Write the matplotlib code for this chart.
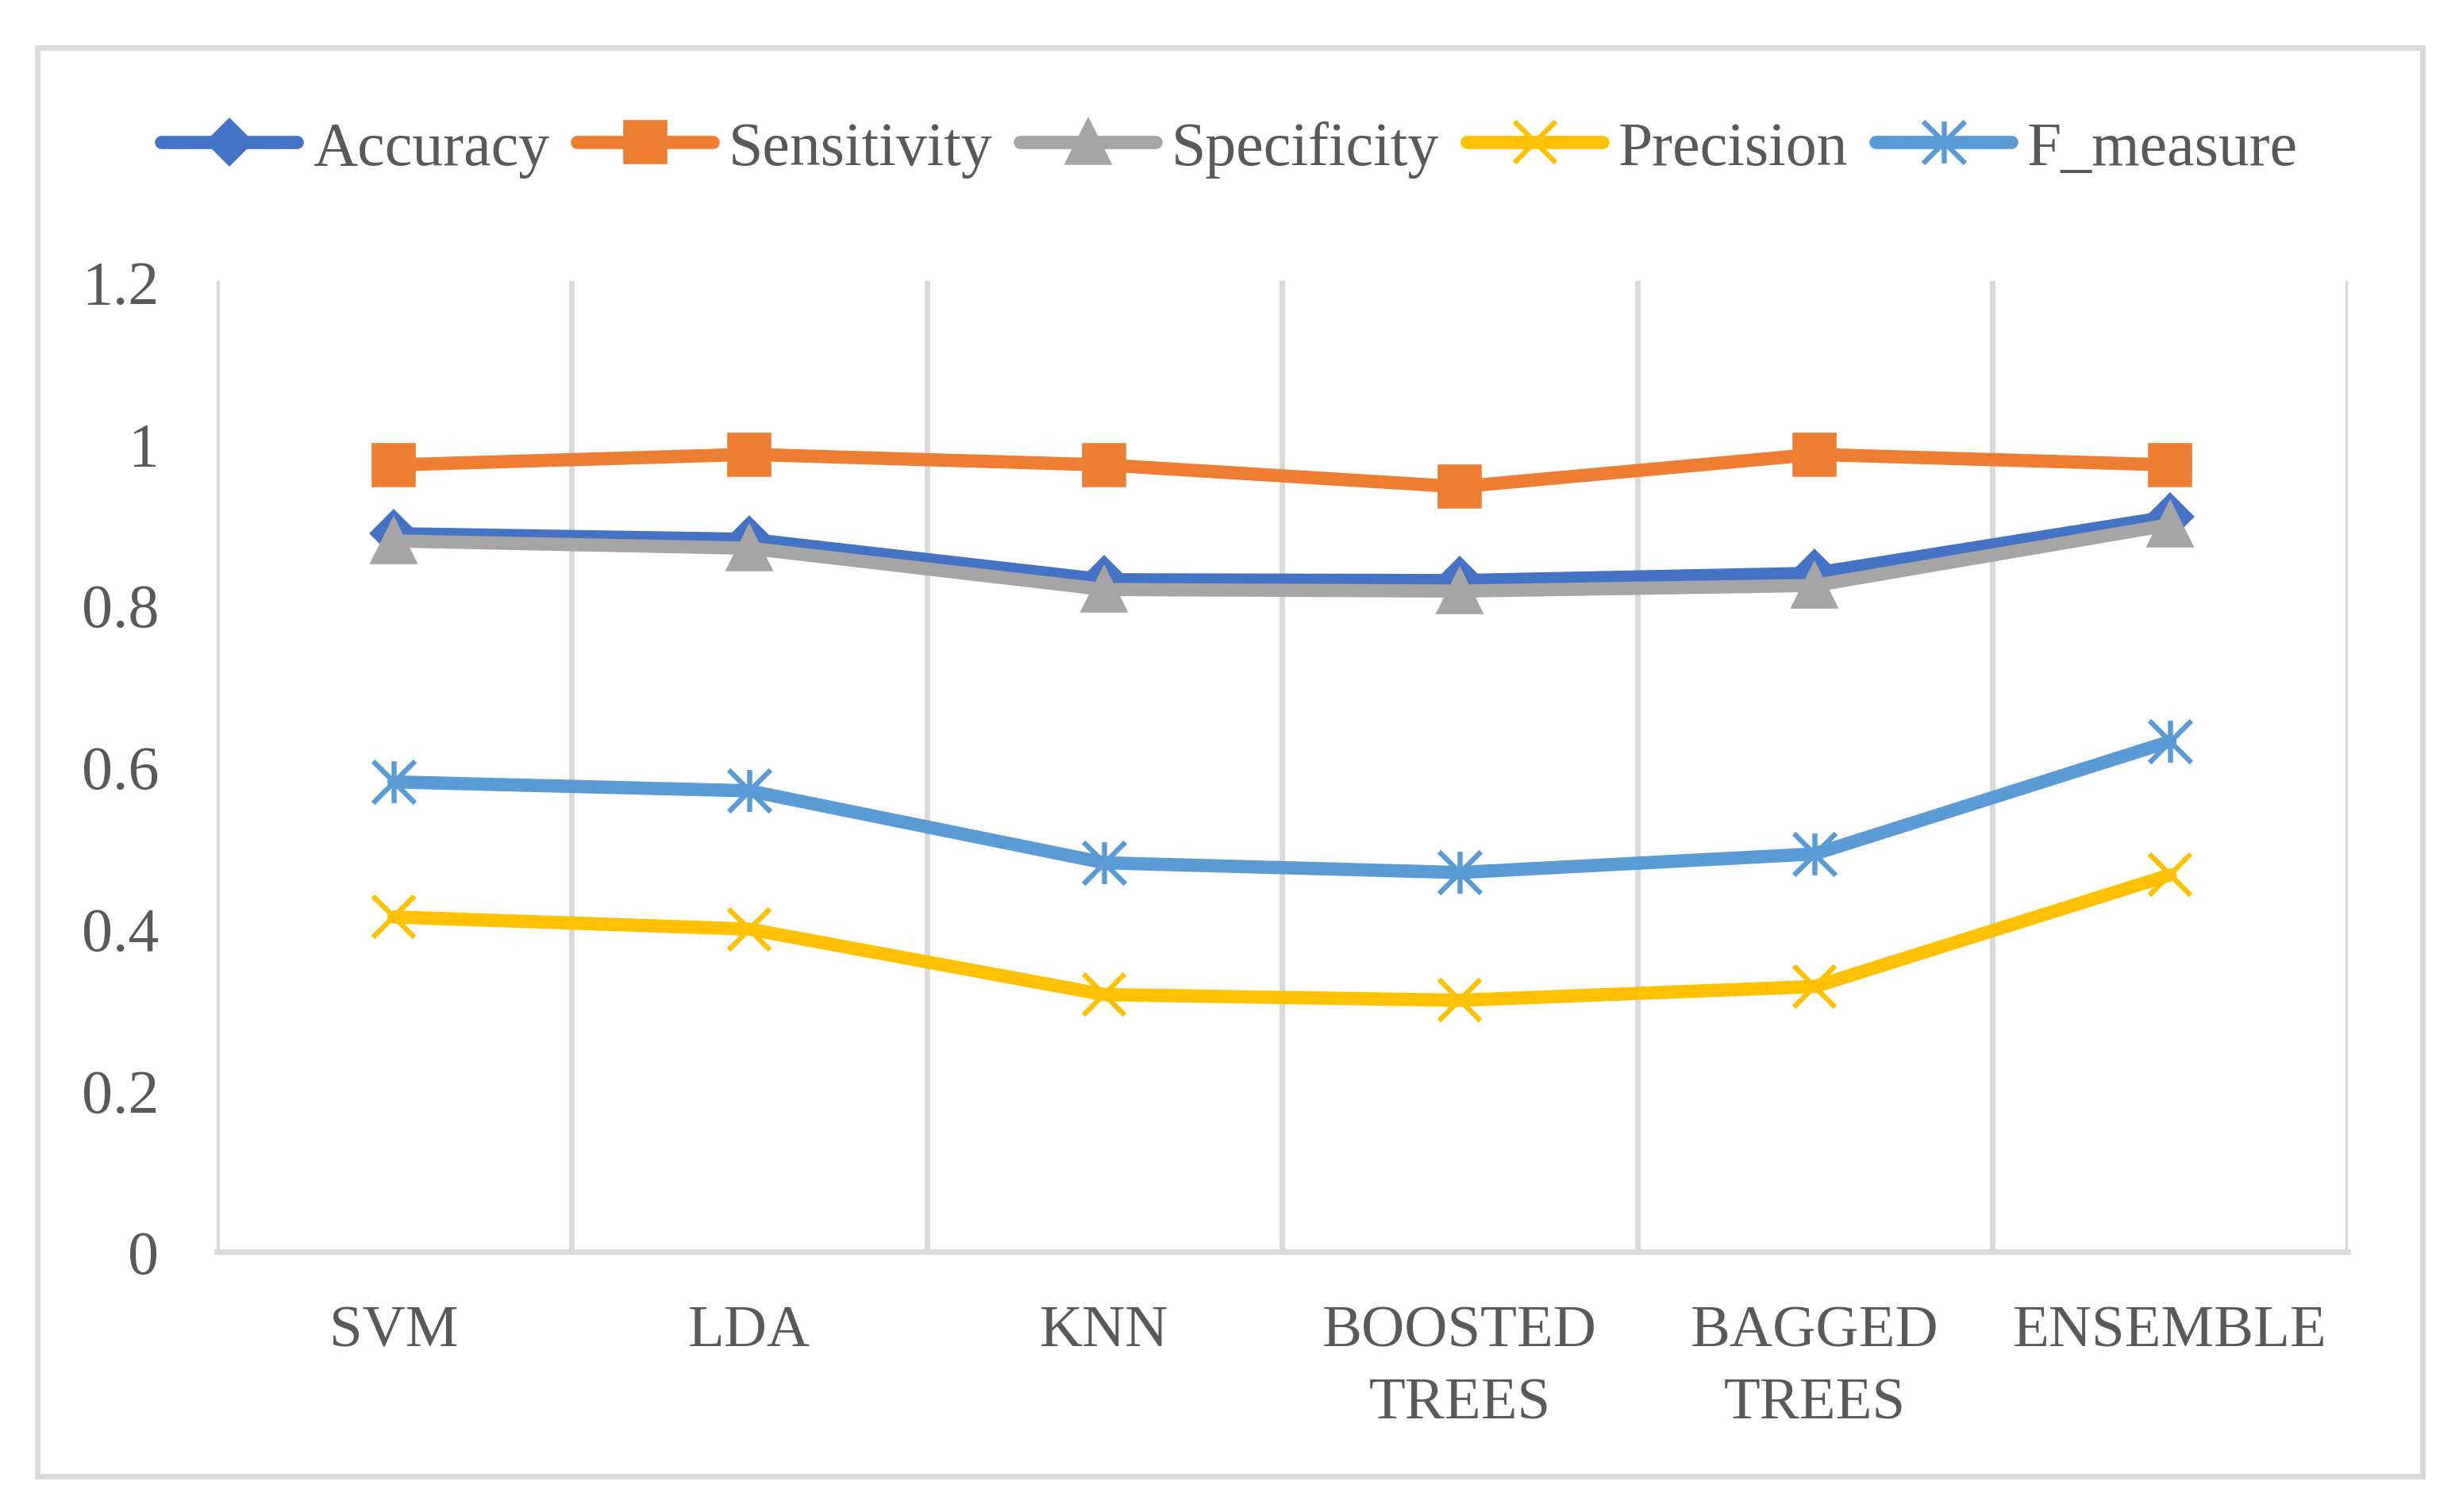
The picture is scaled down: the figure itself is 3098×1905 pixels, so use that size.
import matplotlib
matplotlib.use("Agg")
import matplotlib.pyplot as plt
from matplotlib.path import Path
from matplotlib.patches import Rectangle

categories = ["SVM", "LDA", "KNN", "BOOSTED\nTREES", "BAGGED\nTREES", "ENSEMBLE"]
accuracy = [0.888, 0.881, 0.831, 0.830, 0.839, 0.909]
sensitivity = [0.973, 0.986, 0.973, 0.946, 0.986, 0.973]
specificity = [0.879, 0.870, 0.819, 0.817, 0.824, 0.899]
precision = [0.414, 0.399, 0.318, 0.311, 0.328, 0.466]
f_measure = [0.581, 0.570, 0.481, 0.469, 0.492, 0.631]
y_ticks = [0, 0.2, 0.4, 0.6, 0.8, 1.0, 1.2]
y_labels = ["0", "0.2", "0.4", "0.6", "0.8", "1", "1.2"]

plt.rcParams['font.family'] = ['Liberation Serif', 'DejaVu Serif']
text_col = '#595959'
grid_col = '#D9D9D9'

# asterisk like Excel's star marker: vertical bar plus an X
star = Path([(0, -1), (0, 1), (-1, -1), (1, 1), (-1, 1), (1, -1)],
            [Path.MOVETO, Path.LINETO, Path.MOVETO, Path.LINETO, Path.MOVETO, Path.LINETO])

fig = plt.figure(figsize=(15.49, 9.53), dpi=200)
ax = fig.add_axes([0.088, 0.172, 0.8667, 0.6415])

x = list(range(len(categories)))
lw = 6
ax.plot(x, accuracy, color='#4472C4', lw=lw, marker='D', ms=14, mew=2,
        solid_joinstyle='round', solid_capstyle='round', label='Accuracy')
ax.plot(x, sensitivity, color='#ED7D31', lw=lw, marker='s', ms=18, mew=2,
        solid_joinstyle='round', solid_capstyle='round', label='Sensitivity')
ax.plot(x, specificity, color='#A5A5A5', lw=lw, marker='^', ms=19, mew=2,
        solid_joinstyle='round', solid_capstyle='round', label='Specificity')
ax.plot(x, precision, color='#FFC000', lw=lw, marker='x', ms=19, mew=2.3,
        solid_joinstyle='round', solid_capstyle='round', label='Precision')
ax.plot(x, f_measure, color='#5B9BD5', lw=lw, marker=star, ms=19, mew=2.3,
        mfc='none', solid_joinstyle='round', solid_capstyle='round', label='F_measure')

ax.set_xlim(-0.5, len(categories) - 0.5)
ax.set_ylim(0, 1.2)
ax.set_xticks(x)
ax.set_xticklabels(categories, fontsize=27, color=text_col, linespacing=1.45)
ax.set_xticks([i - 0.5 for i in range(len(categories) + 1)], minor=True)
ax.set_yticks(y_ticks)
ax.set_yticklabels(y_labels, fontsize=28, color=text_col)
ax.tick_params(axis='x', which='both', length=0, pad=24)
ax.tick_params(axis='y', length=0, pad=26)
ax.grid(True, axis='x', which='minor', color=grid_col, lw=2.5)
ax.grid(False, axis='x', which='major')
ax.grid(False, axis='y')
ax.set_axisbelow(True)

for side in ['top', 'right', 'left']:
    ax.spines[side].set_visible(False)
ax.spines['bottom'].set_color(grid_col)
ax.spines['bottom'].set_linewidth(2.5)

leg = ax.legend(loc='center', bbox_to_anchor=(0.5, 0.901), bbox_transform=fig.transFigure,
                ncol=5, frameon=False, fontsize=28, handlelength=2.2, handletextpad=0.25,
                columnspacing=0.45, borderaxespad=0)
for t in leg.get_texts():
    t.set_color(text_col)

fig.patches.append(Rectangle((0.0153, 0.0238), 0.97, 0.9442, transform=fig.transFigure,
                             fill=False, edgecolor=grid_col, lw=2.5))

fig.savefig("out.png", dpi=200, facecolor='white')
